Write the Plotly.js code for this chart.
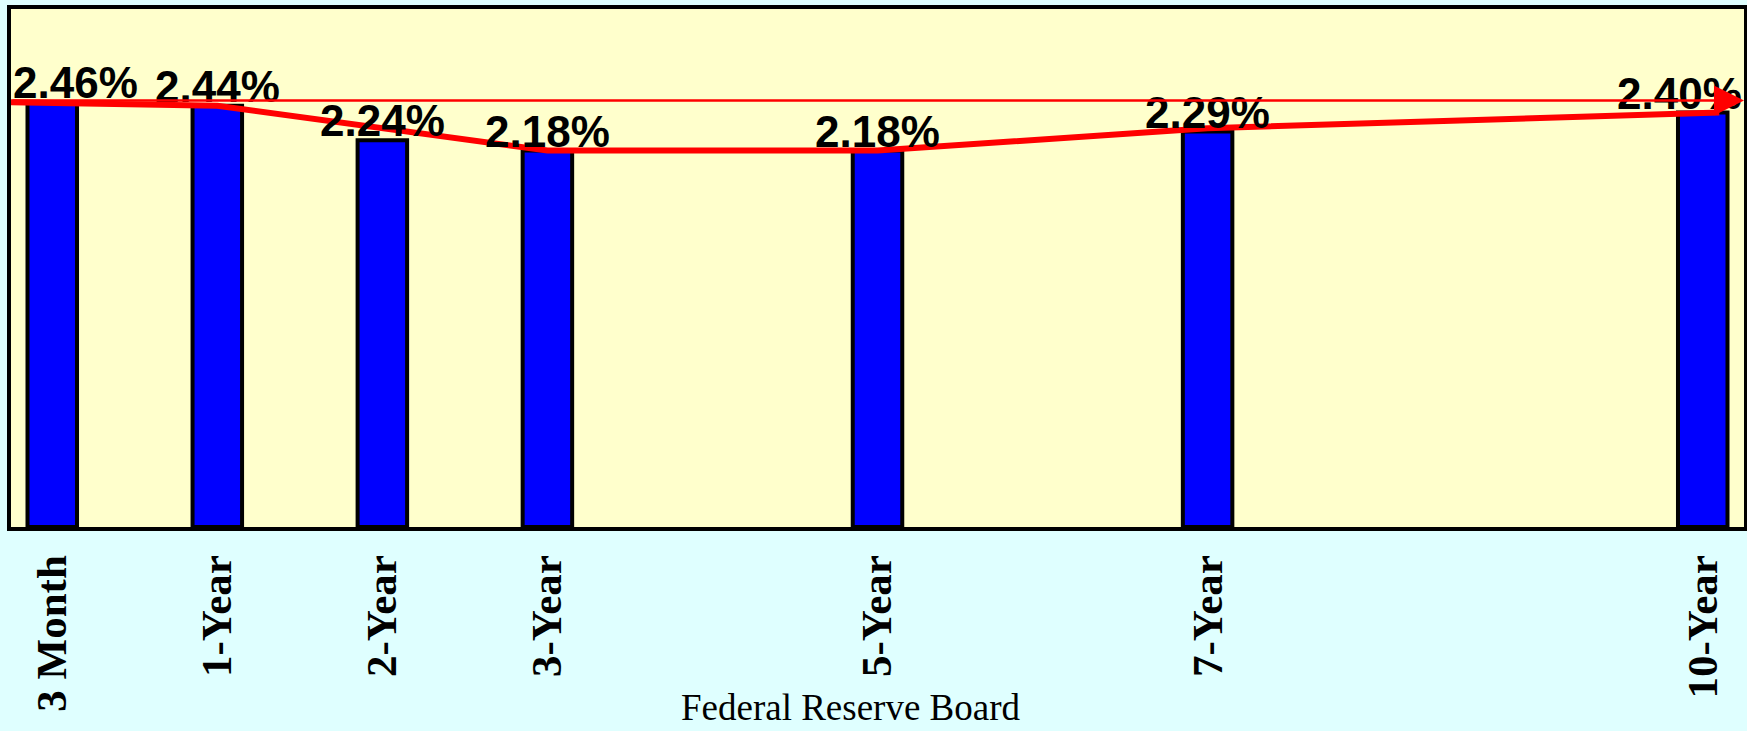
<!DOCTYPE html>
<html>
<head>
<meta charset="utf-8">
<script src="https://cdn.plot.ly/plotly-3.0.1.min.js"></script>
<style>
html,body{margin:0;padding:0;background:#DFFFFF;}
#chart{width:1747px;height:731px;}
</style>
</head>
<body>
<div id="chart"></div>
<script>
// maturities, their position in years on the axis, and yields (%)
const categories = ["3 Month", "1-Year", "2-Year", "3-Year", "5-Year", "7-Year", "10-Year"];
const positions  = [0, 1, 2, 3, 5, 7, 10];
const yields     = [2.46, 2.44, 2.24, 2.18, 2.18, 2.29, 2.40];
const valueLabels = ["2.46%", "2.44%", "2.24%", "2.18%", "2.18%", "2.29%", "2.40%"];

// red curve drawn over the bars
const curveX = [-0.25, 1, 3, 5, 7, 10.1];
const curveY = [2.46, 2.44, 2.18, 2.18, 2.31, 2.40];

// thin reference line (3-month level) ending in an arrow
const refLevel = 2.47;

const xRange = [-0.25, 10.25];
const yRange = [0, 3];

const bars = {
  type: "bar",
  x: positions,
  y: yields,
  width: 0.3,
  marker: {color: "#0000FF", line: {color: "#000000", width: 4}},
  hoverinfo: "skip"
};

const curve = {
  type: "scatter",
  mode: "lines",
  x: curveX,
  y: curveY,
  line: {color: "#FF0000", width: 6},
  hoverinfo: "skip",
  cliponaxis: false
};

const annotations = valueLabels.map((t, i) => {
  let x = positions[i], xanchor = "center";
  if (i === 0) { x = xRange[0]; xanchor = "left"; }
  if (i === valueLabels.length - 1) { x = xRange[1]; xanchor = "right"; }
  return {
    x: x, y: yields[i], xref: "x", yref: "y",
    text: t, showarrow: false, xanchor: xanchor, yanchor: "bottom",
    yshift: -7,
    font: {family: "Liberation Sans", size: 44, color: "#000000", weight: "bold"}
  };
});

annotations.push({
  x: xRange[1], y: refLevel, ax: xRange[0], ay: refLevel,
  xref: "x", yref: "y", axref: "x", ayref: "y",
  text: "", showarrow: true, arrowhead: 2, arrowsize: 2.4, arrowwidth: 2.5,
  arrowcolor: "#FF0000", standoff: 0, startstandoff: 0
});

annotations.push({
  x: 0.4847, y: 0, xref: "paper", yref: "paper",
  text: "Federal Reserve Board", showarrow: false,
  xanchor: "center", yanchor: "top", yshift: -158,
  font: {family: "Liberation Serif", size: 37, color: "#000000"}
});

const layout = {
  width: 1747, height: 731,
  paper_bgcolor: "#DFFFFF",
  plot_bgcolor: "#FFFFCC",
  margin: {l: 11, r: 3, t: 9, b: 204, pad: 0},
  showlegend: false,
  bargap: 0,
  xaxis: {
    range: xRange,
    tickmode: "array",
    tickvals: positions,
    ticktext: categories,
    tickangle: -90,
    ticks: "",
    ticklabelstandoff: 7,
    tickfont: {family: "Liberation Serif", size: 43, color: "#000000", weight: "bold"},
    showgrid: false, zeroline: false,
    showline: true, linecolor: "#000000", linewidth: 4, mirror: true,
    fixedrange: true
  },
  yaxis: {
    range: yRange,
    showticklabels: false, ticks: "",
    showgrid: false, zeroline: false,
    showline: true, linecolor: "#000000", linewidth: 4, mirror: true,
    fixedrange: true
  },
  annotations: annotations
};

Plotly.newPlot("chart", [bars, curve], layout, {displayModeBar: false, staticPlot: true});
</script>
</body>
</html>
